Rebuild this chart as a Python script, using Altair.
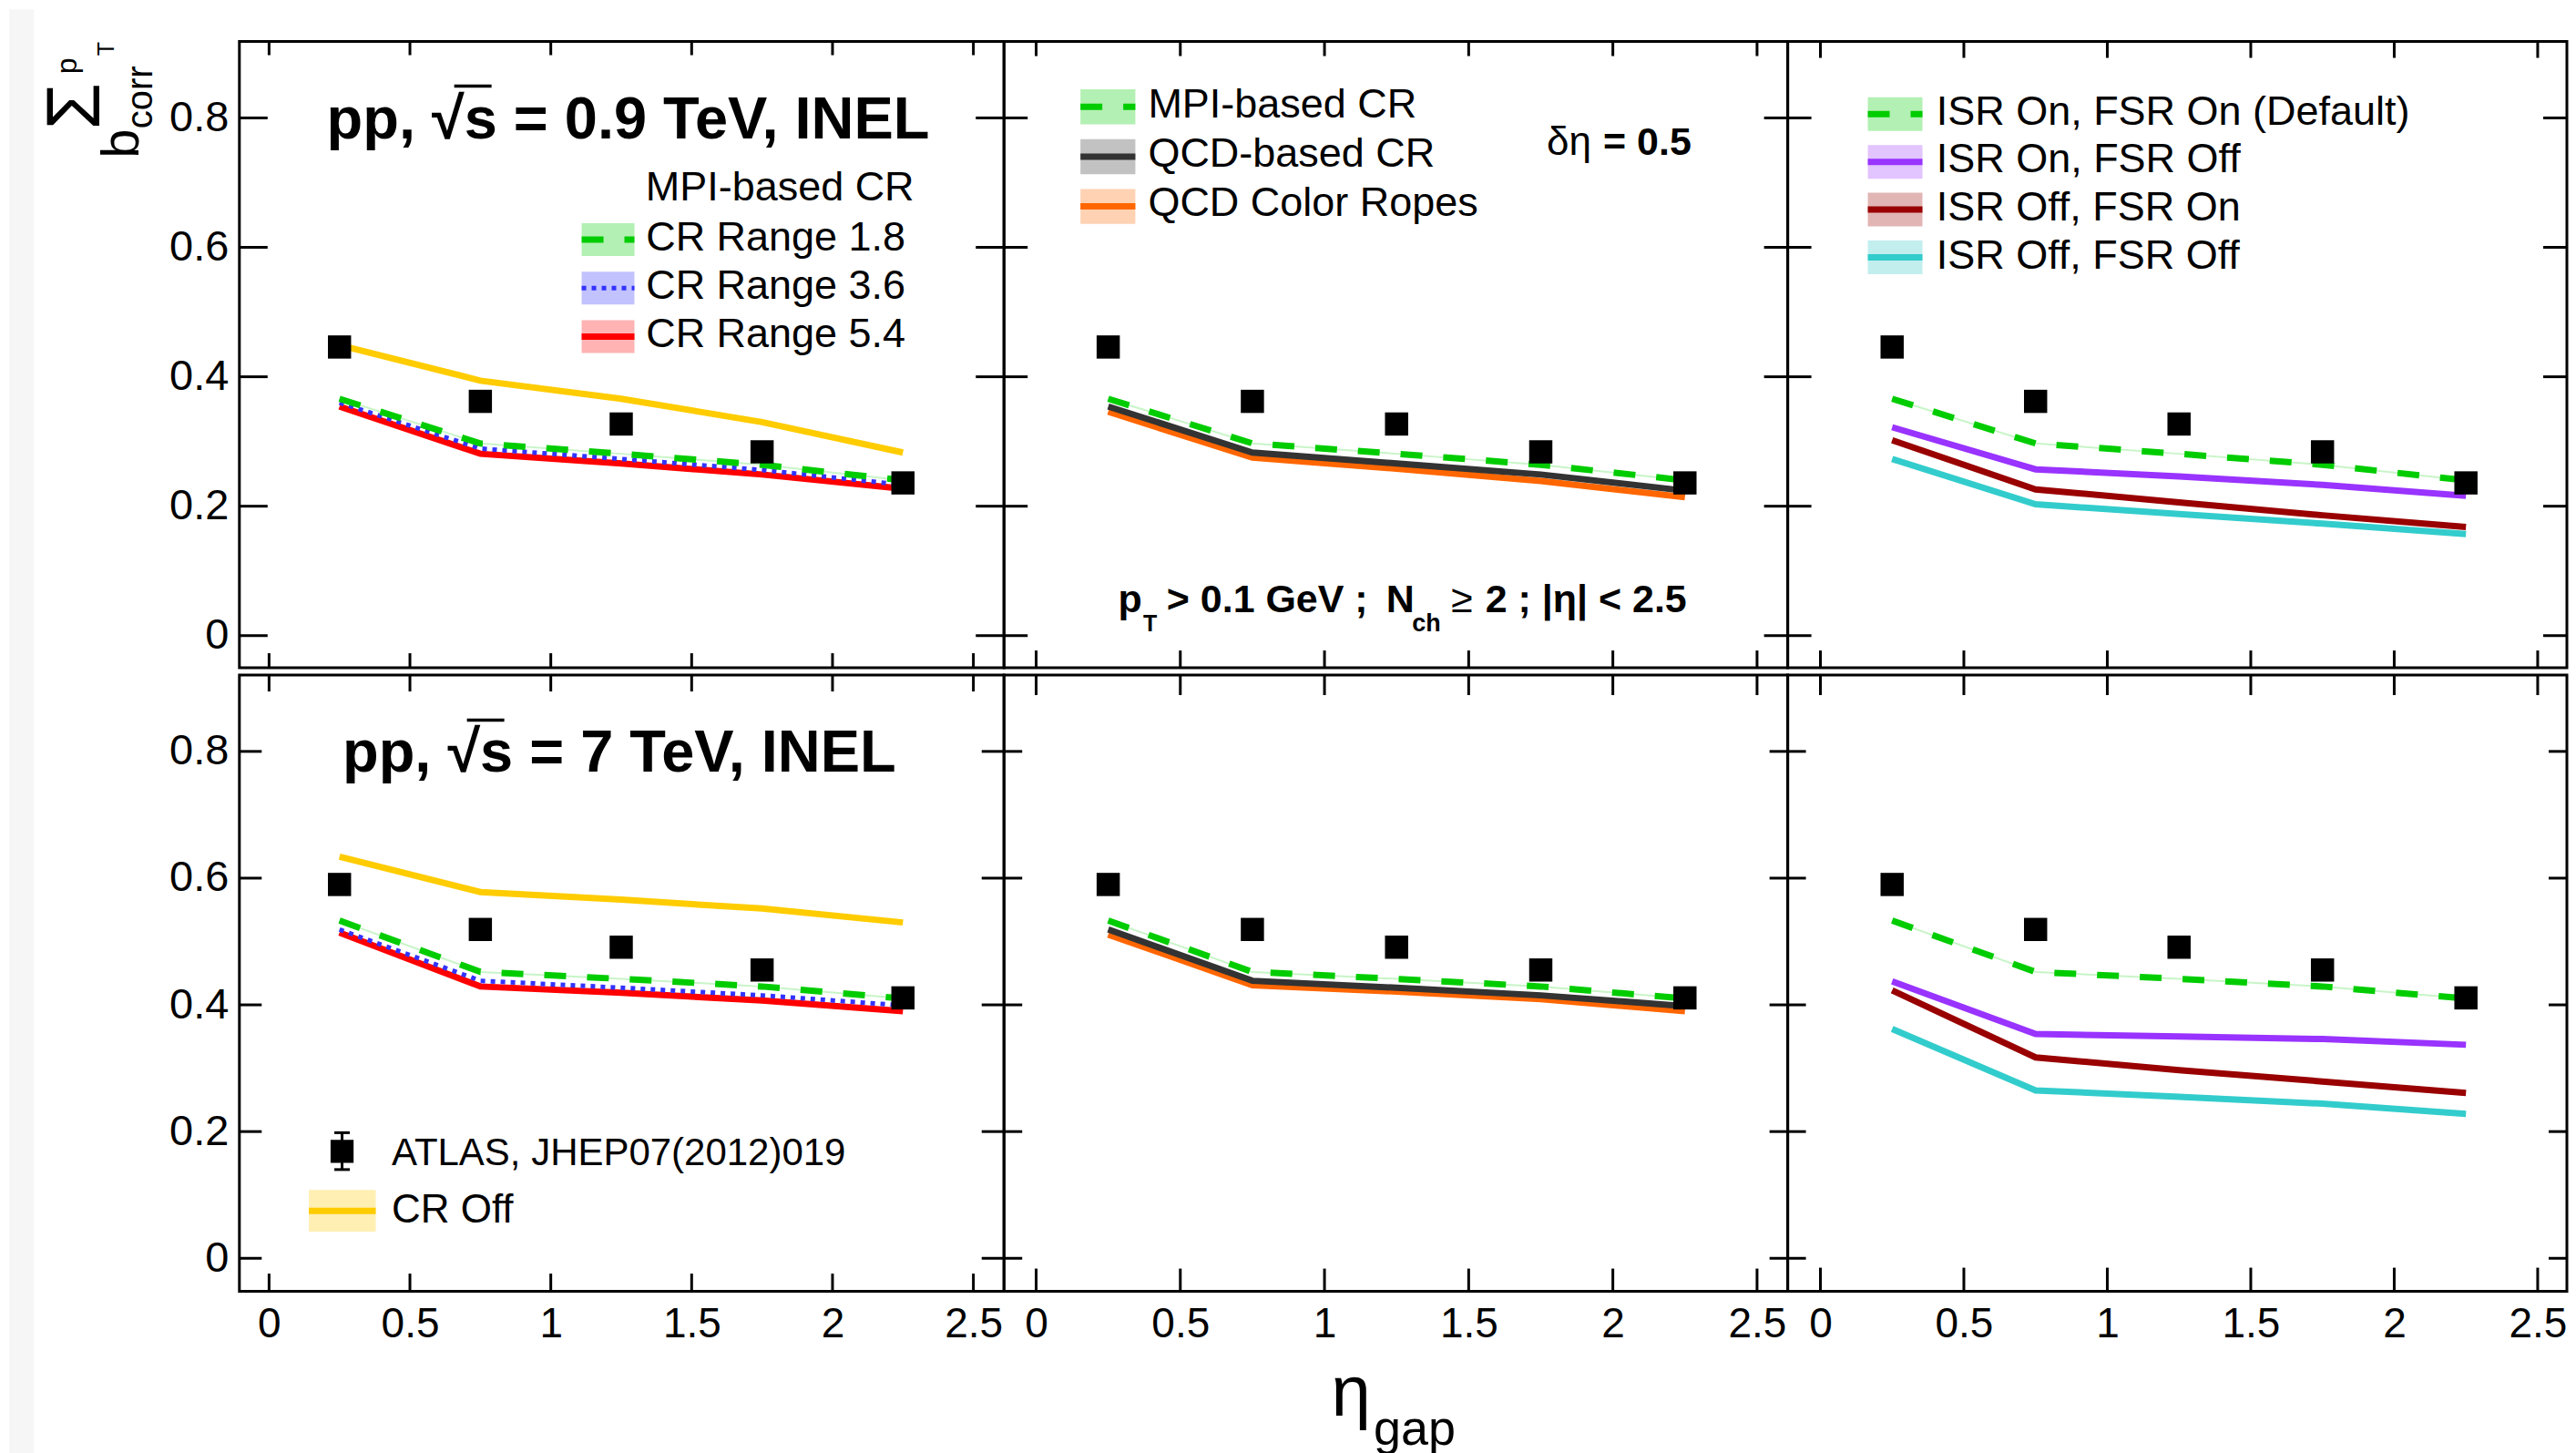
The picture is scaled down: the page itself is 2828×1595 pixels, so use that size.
import altair as alt
import pandas as pd

FONT = "Liberation Sans"

# ---------------- data ----------------
eta_gap = [0.25, 0.75, 1.25, 1.75, 2.25]
x_tick_values = [0, 0.5, 1, 1.5, 2, 2.5]
y_tick_values = [0, 0.2, 0.4, 0.6, 0.8]

# pp, sqrt(s) = 0.9 TeV
atlas_09 = [0.446, 0.362, 0.327, 0.284, 0.236]
cr_off_09 = [0.449, 0.394, 0.366, 0.330, 0.283]
mpi_cr18_09 = [0.366, 0.297, 0.281, 0.264, 0.240]
mpi_cr36_09 = [0.360, 0.289, 0.273, 0.256, 0.233]
mpi_cr54_09 = [0.354, 0.281, 0.266, 0.249, 0.227]
qcd_cr_09 = [0.354, 0.283, 0.266, 0.249, 0.224]
ropes_09 = [0.346, 0.275, 0.258, 0.239, 0.214]
isr_on_fsr_off_09 = [0.322, 0.257, 0.246, 0.233, 0.216]
isr_off_fsr_on_09 = [0.302, 0.226, 0.206, 0.186, 0.168]
isr_off_fsr_off_09 = [0.273, 0.203, 0.188, 0.173, 0.157]

# pp, sqrt(s) = 7 TeV
atlas_7 = [0.590, 0.519, 0.491, 0.455, 0.411]
cr_off_7 = [0.634, 0.578, 0.566, 0.552, 0.530]
mpi_cr18_7 = [0.533, 0.452, 0.441, 0.429, 0.410]
mpi_cr36_7 = [0.519, 0.438, 0.427, 0.415, 0.399]
mpi_cr54_7 = [0.514, 0.429, 0.419, 0.407, 0.390]
qcd_cr_7 = [0.519, 0.438, 0.427, 0.415, 0.398]
ropes_7 = [0.511, 0.431, 0.421, 0.409, 0.390]
isr_on_fsr_off_7 = [0.437, 0.354, 0.350, 0.346, 0.337]
isr_off_fsr_on_7 = [0.423, 0.317, 0.297, 0.279, 0.261]
isr_off_fsr_off_7 = [0.362, 0.265, 0.255, 0.244, 0.228]

titles = ["pp, √s = 0.9 TeV, INEL", "pp, √s = 7 TeV, INEL"]
mpi_header = "MPI-based CR"
mpi_labels = ["CR Range 1.8", "CR Range 3.6", "CR Range 5.4"]
model_labels = ["MPI-based CR", "QCD-based CR", "QCD Color Ropes"]
shower_labels = ["ISR On, FSR On (Default)", "ISR On, FSR Off",
                 "ISR Off, FSR On", "ISR Off, FSR Off"]
data_label = "ATLAS, JHEP07(2012)019"
cr_off_label = "CR Off"

# ---------------- styles ----------------
ST = {
    "cr_off": dict(color="#ffcc00", band="#ffefb3", dash=None, sw=7),
    "mpi18": dict(color="#00cc00", band="#b3f0b3", dash=[24, 23], sw=7),
    "mpi36": dict(color="#3333ff", band="#c2c2ff", dash=[5, 6], sw=5),
    "mpi54": dict(color="#ff0000", band="#ffb3b3", dash=None, sw=7),
    "qcd": dict(color="#333333", band="#c2c2c2", dash=None, sw=7),
    "ropes": dict(color="#ff6600", band="#ffd2b3", dash=None, sw=7),
    "isr_on_fsr_off": dict(color="#9933ff", band="#e2c4ff", dash=None, sw=7),
    "isr_off_fsr_on": dict(color="#990000", band="#e2b5b5", dash=None, sw=7),
    "isr_off_fsr_off": dict(color="#33cccc", band="#c2eeee", dash=None, sw=7),
}


def one(t=""):
    return pd.DataFrame({"t": [t]})


def txt(s, x, y, size, weight="normal", align="left", angle=0):
    return alt.Chart(one(s)).mark_text(
        align=align, baseline="alphabetic", font=FONT, fontSize=size,
        fontWeight=weight, angle=angle, color="black"
    ).encode(x=alt.value(x), y=alt.value(y), text="t:N")


def hrule(x0, x1, y, color="black", sw=3, dash=None):
    kw = dict(color=color, strokeWidth=sw, strokeCap="butt")
    if dash:
        kw["strokeDash"] = dash
    return alt.Chart(one()).mark_rule(**kw).encode(
        x=alt.value(x0), x2=alt.value(x1), y=alt.value(y))


def vrule(x, y0, y1, color="black", sw=3):
    return alt.Chart(one()).mark_rule(color=color, strokeWidth=sw, strokeCap="butt").encode(
        x=alt.value(x), y=alt.value(y0), y2=alt.value(y1))


def rect(x0, x1, y0, y1, color):
    return alt.Chart(one()).mark_rect(color=color).encode(
        x=alt.value(x0), x2=alt.value(x1), y=alt.value(y0), y2=alt.value(y1))


def legend_entry(key, x0, x1, yc, h, label, tx, ty, size=45):
    s = ST[key]
    return [rect(x0, x1, yc - h / 2, yc + h / 2, s["band"]),
            hrule(x0, x1, yc, s["color"], s["sw"], s["dash"]),
            txt(label, tx, ty, size)]


def panel(W, H, xdom, ydom, tky, tkxt, tkxb, show_x, show_y, series, atlas,
          extras, under=()):
    xs = alt.Scale(domain=xdom, nice=False, zero=False)
    ys = alt.Scale(domain=ydom, nice=False, zero=False)
    if show_x:
        xaxis = alt.Axis(values=x_tick_values, format="~g", ticks=False, tickSize=0,
                         domain=False, grid=False, labelFont=FONT, labelFontSize=46,
                         labelPadding=14, labelColor="black", title=None,
                         labelFlush=False, labelOverlap=False)
    else:
        xaxis = None
    if show_y:
        yaxis = alt.Axis(values=y_tick_values, format="~g", ticks=False, tickSize=0,
                         domain=False, grid=False, labelFont=FONT, labelFontSize=47,
                         labelPadding=12, labelColor="black", title=None,
                         labelFlush=False, labelOverlap=False)
    else:
        yaxis = None

    def X(f):
        return alt.X(f, type="quantitative", scale=xs, axis=xaxis)

    def Y(f):
        return alt.Y(f, type="quantitative", scale=ys, axis=yaxis)

    layers = list(under)
    yt = pd.DataFrame({"v": y_tick_values})
    xt = pd.DataFrame({"v": x_tick_values})
    tick = dict(color="black", strokeWidth=3)
    layers.append(alt.Chart(yt).mark_rule(**tick).encode(
        y=Y("v"), x=alt.value(0), x2=alt.value(tky)))
    layers.append(alt.Chart(yt).mark_rule(**tick).encode(
        y=Y("v"), x=alt.value(W - tky), x2=alt.value(W)))
    layers.append(alt.Chart(xt).mark_rule(**tick).encode(
        x=X("v"), y=alt.value(0), y2=alt.value(tkxt)))
    layers.append(alt.Chart(xt).mark_rule(**tick).encode(
        x=X("v"), y=alt.value(H - tkxb), y2=alt.value(H)))

    for key, vals in series:
        s = ST[key]
        df = pd.DataFrame({"eta": eta_gap, "v": vals})
        if key == "mpi18":
            layers.append(alt.Chart(df).mark_line(color="#c8f5c8", strokeWidth=2).encode(
                x=X("eta"), y=Y("v")))
        kw = dict(color=s["color"], strokeWidth=s["sw"], strokeCap="butt")
        if s["dash"]:
            kw["strokeDash"] = s["dash"]
        layers.append(alt.Chart(df).mark_line(**kw).encode(x=X("eta"), y=Y("v")))

    dfa = pd.DataFrame({"eta": eta_gap, "v": atlas})
    layers.append(alt.Chart(dfa).mark_square(size=650, color="black", opacity=1).encode(
        x=X("eta"), y=Y("v")))
    layers += list(extras)
    return alt.layer(*layers).properties(width=W, height=H)


TOP_DOM = [-0.0497, 0.9181]
BOT_DOM = [-0.0522, 0.9205]
LX = [-0.1053, 2.6087]
MX = [-0.1114, 2.6064]
RX = [-0.1139, 2.6018]
WL, WM, WR = 840, 861, 856
HT, HB = 688, 677

# ---------- top-left ----------
tl_extra = [
    txt(titles[0], 427, 106.7, 65, "bold", "center"),
    hrule(236, 277, 49, sw=3.5),
    txt(mpi_header, 446.3, 174.7, 45),
]
for i, (k, lab) in enumerate(zip(["mpi18", "mpi36", "mpi54"], mpi_labels)):
    tl_extra += legend_entry(k, 376, 434, 217.7 + 53.2 * i, 36, lab, 446.7, 229.7 + 53 * i)
# y-axis title  b_corr^{Σ p_T}
tl_extra += [
    txt("b", -110.7, 128.2, 58, angle=270),
    txt("corr", -95.7, 95.7, 40, angle=270),
    txt("Σ", -153.7, 96.7, 83, angle=270),
    txt("p", -179.4, 35.7, 32, angle=270),
    txt("T", -137.7, 15.7, 25, angle=270),
]
gray = [rect(-252.7, -225.7, -35.3, 1560, "#f6f6f6")]
tl = panel(WL, HT, LX, TOP_DOM, 31, 15, 16, False, True,
           [("cr_off", cr_off_09), ("mpi54", mpi_cr54_09), ("mpi36", mpi_cr36_09),
            ("mpi18", mpi_cr18_09)], atlas_09, tl_extra, gray)

# ---------- top-middle ----------
tm_extra = []
for i, (k, lab) in enumerate(zip(["mpi18", "qcd", "ropes"], model_labels)):
    tm_extra += legend_entry(k, 84, 144.3, 71.7 + 54.75 * i, 38.5, lab, 158.3, 83.2 + 54 * i)
tm_extra += [
    txt("δη", 596.3, 124.2, 44),
    txt("= 0.5", 658.3, 124.2, 43, "bold"),
    txt("p", 125.3, 626.7, 43, "bold"),
    txt("T", 153, 647.7, 25, "bold"),
    txt("> 0.1 GeV ;", 178.7, 626.7, 43, "bold"),
    txt("N", 419.8, 626.7, 43, "bold"),
    txt("ch", 448.3, 647.7, 27, "bold"),
    txt("≥", 491.3, 626.7, 43),
    txt("2 ; |η| < 2.5", 528.9, 626.7, 43, "bold"),
]
tm = panel(WM, HT, MX, TOP_DOM, 26, 16, 19, False, False,
           [("ropes", ropes_09), ("qcd", qcd_cr_09), ("mpi18", mpi_cr18_09)],
           atlas_09, tm_extra)

# ---------- top-right ----------
tr_extra = []
for i, (k, lab) in enumerate(zip(["mpi18", "isr_on_fsr_off", "isr_off_fsr_on", "isr_off_fsr_off"],
                                 shower_labels)):
    tr_extra += legend_entry(k, 88, 148, 79.7 + 52.5 * i, 37, lab, 163.3, 91.2 + 52.7 * i)
tr = panel(WR, HT, RX, TOP_DOM, 26, 18, 19, False, False,
           [("isr_off_fsr_off", isr_off_fsr_off_09), ("isr_off_fsr_on", isr_off_fsr_on_09),
            ("isr_on_fsr_off", isr_on_fsr_off_09), ("mpi18", mpi_cr18_09)],
           atlas_09, tr_extra)

# ---------- bottom-left ----------
bl_extra = [
    txt(titles[1], 417.3, 106.2, 65, "bold", "center"),
    hrule(250, 291, 49.5, sw=3.5),
    # data legend marker
    vrule(112.8, 502.7, 543.2),
    hrule(104.3, 121.3, 502.7),
    hrule(104.3, 121.3, 543.2),
    alt.Chart(one()).mark_square(size=640, color="black", opacity=1).encode(
        x=alt.value(112.8), y=alt.value(523.2)),
    txt(data_label, 167.3, 538.7, 42),
] + legend_entry("cr_off", 76.3, 149.8, 588.5, 45.6, cr_off_label, 167.3, 601.7, 44)
bl = panel(WL, HB, LX, BOT_DOM, 24.5, 18, 19.5, True, True,
           [("cr_off", cr_off_7), ("mpi54", mpi_cr54_7), ("mpi36", mpi_cr36_7),
            ("mpi18", mpi_cr18_7)], atlas_7, bl_extra)

# ---------- bottom-middle ----------
bm_extra = [
    txt("η", 359.5, 813.7, 78),
    txt("gap", 406, 846, 54),
]
bm = panel(WM, HB, MX, BOT_DOM, 20, 22, 25, True, False,
           [("ropes", ropes_7), ("qcd", qcd_cr_7), ("mpi18", mpi_cr18_7)],
           atlas_7, bm_extra)

# ---------- bottom-right ----------
br = panel(WR, HB, RX, BOT_DOM, 20, 22, 26, True, False,
           [("isr_off_fsr_off", isr_off_fsr_off_7), ("isr_off_fsr_on", isr_off_fsr_on_7),
            ("isr_on_fsr_off", isr_on_fsr_off_7), ("mpi18", mpi_cr18_7)],
           atlas_7, [])

chart = alt.concat(
    tl, tm, tr, bl, bm, br, columns=3, spacing={"row": 8, "column": 0},
    align="each", bounds="flush"
).properties(
    padding={"left": 0, "top": 0, "right": -1, "bottom": 0},
    background="white",
).configure_view(stroke="black", strokeWidth=3)

chart.save("out.html", embed_options={"renderer": "svg", "actions": False})
